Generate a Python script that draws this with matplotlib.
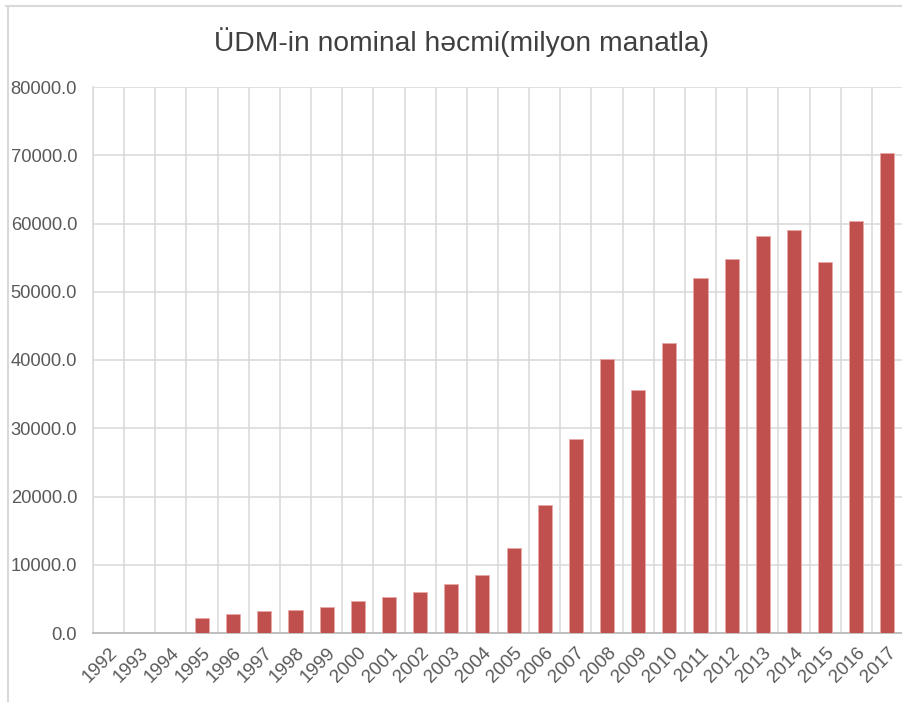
"""
Nominal GDP of Azerbaijan, bar chart in the Excel style.
"""

import matplotlib

matplotlib.use("Agg")
import matplotlib.pyplot as plt
from matplotlib.lines import Line2D
import numpy as np

years = [str(y) for y in range(1992, 2018)]
gdp = [
    1.3, 15.5, 17.6, 2133.8, 2732.6, 3158.2, 3440.6, 3775.1, 4718.1, 5315.6,
    6062.5, 7146.5, 8530.2, 12522.5, 18746.2, 28360.5, 40137.2, 35601.5,
    42465.0, 52082.0, 54743.7, 58182.0, 59014.1, 54380.0, 60425.2, 70337.8,
]
y_ticks = [0, 10000, 20000, 30000, 40000, 50000, 60000, 70000, 80000]
title = "ÜDM-in nominal həcmi(milyon manatla)"

plt.rcParams["font.family"] = ["Liberation Sans", "DejaVu Sans"]

grid_col = "#d9d9d9"
text_col = "#595959"

fig = plt.figure(figsize=(9.03, 7.02), dpi=100)
ax = fig.add_axes([93 / 903, 1 - 633 / 702, 810 / 903, (633 - 87) / 702])

x = np.arange(len(years))
ax.bar(x, gdp, width=0.45, color="#c0504d", edgecolor="#e8a9a7",
       linewidth=0.6, zorder=3)

ax.set_xlim(-0.5, len(years) - 0.5)
ax.set_ylim(0, 80000)
ax.set_yticks(y_ticks)
ax.set_yticklabels([f"{v:.1f}" for v in y_ticks])
ax.set_xticks(x)
ax.set_xticklabels(years, rotation=45, ha="right", va="top",
                   rotation_mode="anchor")
ax.set_xticks(np.arange(len(years) + 1) - 0.5, minor=True)

ax.tick_params(axis="y", length=0, pad=11.5, labelsize=13.2, labelcolor=text_col)
ax.tick_params(axis="x", which="major", length=0, pad=8, labelsize=13.5,
               labelcolor=text_col)
ax.tick_params(axis="x", which="minor", length=0)

ax.grid(axis="y", color=grid_col, linewidth=1.1, zorder=0)
ax.grid(axis="x", which="minor", color=grid_col, linewidth=1.1, zorder=0)
ax.grid(axis="x", which="major", visible=False)

for side in ("top", "right"):
    ax.spines[side].set_visible(False)
ax.spines["left"].set_color(grid_col)
ax.spines["left"].set_linewidth(1.1)
ax.spines["bottom"].set_color("#bfbfbf")
ax.spines["bottom"].set_linewidth(1.4)

fig.text(462 / 903, 1 - 42 / 702, title, ha="center", va="center",
         fontsize=20.3, color="#404040")

# frame of the surrounding container (top and left edges only)
fig.add_artist(Line2D([6 / 903, 1], [1 - 6 / 702, 1 - 6 / 702],
                      transform=fig.transFigure, color=grid_col, linewidth=1.5))
fig.add_artist(Line2D([8 / 903, 8 / 903], [0, 1 - 6 / 702],
                      transform=fig.transFigure, color=grid_col, linewidth=1.5))

fig.savefig("out.png", dpi=100, facecolor="white")
